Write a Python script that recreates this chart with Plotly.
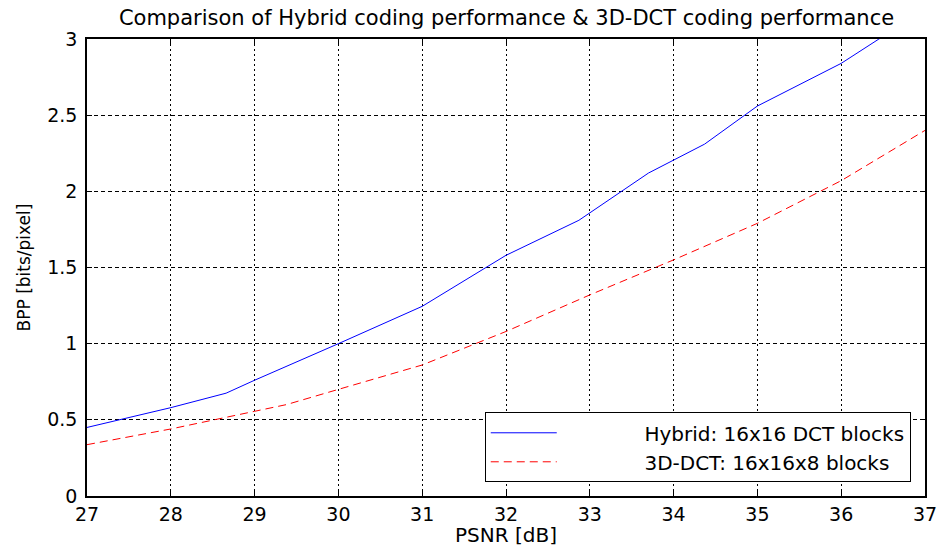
import plotly.graph_objects as go

# Data
hybrid_psnr = [27, 28, 28.66, 29, 30, 31, 32, 32.87, 33.7, 34.37, 35, 36, 36.45, 36.55]
hybrid_bpp = [0.45, 0.58, 0.675, 0.76, 1.0, 1.245, 1.58, 1.81, 2.12, 2.31, 2.56, 2.84, 3.0, 3.03]
dct3d_psnr = [27, 28, 29, 29.38, 30, 31, 32, 33, 34, 35, 36, 37]
dct3d_bpp = [0.337, 0.44, 0.556, 0.60, 0.70, 0.86, 1.08, 1.32, 1.55, 1.79, 2.07, 2.40]

x_ticks = [27, 28, 29, 30, 31, 32, 33, 34, 35, 36, 37]
y_ticks = [0, 0.5, 1, 1.5, 2, 2.5, 3]
y_tick_labels = ["0", "0.5", "1", "1.5", "2", "2.5", "3"]

title_text = "Comparison of Hybrid coding performance & 3D-DCT coding performance"
x_label = "PSNR [dB]"
y_label = "BPP [bits/pixel]"
name_hybrid = "\u00a0" * 13 + "Hybrid: 16x16 DCT blocks"
name_3d = "\u00a0" * 13 + "3D-DCT: 16x16x8 blocks"

FONT = "DejaVu Sans"

fig = go.Figure()
fig.add_trace(go.Scatter(x=hybrid_psnr, y=hybrid_bpp, mode="lines", name=name_hybrid,
                         line=dict(color="#0000ff", width=1)))
fig.add_trace(go.Scatter(x=dct3d_psnr, y=dct3d_bpp, mode="lines", name=name_3d,
                         line=dict(color="#ff0000", width=1, dash="8px,5px")))

axis_common = dict(
    showline=True, linecolor="black", linewidth=1.5, mirror="ticks",
    ticks="inside", ticklen=5, tickcolor="black", tickwidth=1,
    showgrid=True, gridcolor="black", gridwidth=1, zeroline=False,
    automargin=False, ticklabeloverflow="allow",
    tickfont=dict(family=FONT, size=19, color="black"),
)

fig.update_layout(
    width=938, height=546,
    margin=dict(l=87, r=13, t=39, b=50),
    paper_bgcolor="white", plot_bgcolor="white",
    title=dict(text=title_text, x=0.54, xanchor="center", y=0.968, yanchor="middle",
               font=dict(family=FONT, size=21, color="black")),
    xaxis=dict(range=[27, 37], tickvals=x_ticks, griddash="2px,3px",
               ticklabelstandoff=0, **axis_common),
    yaxis=dict(range=[0, 3], tickvals=y_ticks, ticktext=y_tick_labels, griddash="4px,3px",
               title=dict(text=y_label, standoff=12, font=dict(family=FONT, size=17, color="black")),
               ticklabelstandoff=4, **axis_common),
    showlegend=True,
    legend=dict(x=0.983, xanchor="right", y=0.03, yanchor="bottom",
                bgcolor="white", bordercolor="black", borderwidth=1,
                itemwidth=66, tracegroupgap=0,
                font=dict(family=FONT, size=20, color="black")),
    annotations=[dict(text=x_label, xref="paper", yref="paper", x=0.5, y=0,
                      xanchor="center", yanchor="top", yshift=-25, showarrow=False,
                      font=dict(family=FONT, size=20, color="black"))],
)

fig.write_html("out.html")
